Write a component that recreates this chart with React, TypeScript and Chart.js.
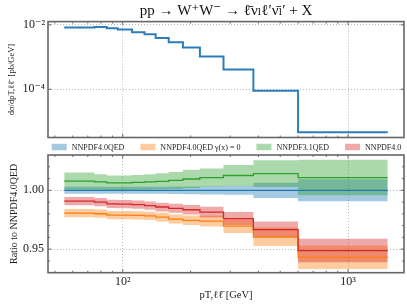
import React, { useEffect, useRef } from 'react';
import { Chart, registerables } from 'chart.js';

Chart.register(...registerables);

// ---------- data ----------
const binEdges = [55, 75, 85, 95, 110, 125, 140, 160, 185, 220, 280, 380, 600, 1500];
const xsec = [8.24e-3, 8.67e-3, 7.89e-3, 7.14e-3, 5.93e-3, 5.14e-3, 3.94e-3, 2.9e-3, 1.97e-3, 1.04e-3, 4.08e-4, 9.04e-5, 4.62e-6];

const ratioQED = [1, 1, 1, 1, 1, 1, 1, 1, 1, 1, 1, 1, 1];
const errQED = [0.003, 0.003, 0.003, 0.003, 0.003, 0.003, 0.003, 0.0032, 0.0033, 0.0035, 0.0038, 0.0065, 0.0094];

const ratioNoPhoton = [0.9806, 0.9801, 0.9789, 0.979, 0.9787, 0.9782, 0.9772, 0.9756, 0.9745, 0.9738, 0.9695, 0.9605, 0.9432];
const errNoPhoton = [0.0035, 0.0035, 0.0035, 0.0035, 0.0035, 0.0035, 0.0037, 0.0038, 0.004, 0.0045, 0.0058, 0.0078, 0.01];

const ratio31 = [1.0078, 1.0071, 1.0064, 1.0064, 1.0068, 1.0072, 1.0076, 1.0084, 1.0096, 1.0108, 1.0126, 1.0142, 1.0108];
const err31 = [0.0074, 0.0066, 0.0062, 0.0062, 0.0063, 0.0065, 0.0068, 0.0072, 0.0078, 0.0078, 0.009, 0.0114, 0.0151];

const ratio40 = [0.9908, 0.99, 0.9885, 0.9883, 0.9878, 0.987, 0.9858, 0.9847, 0.9835, 0.9815, 0.976, 0.9666, 0.9488];
const err40 = [0.0035, 0.0035, 0.0035, 0.0035, 0.0035, 0.0035, 0.0037, 0.0038, 0.004, 0.0045, 0.0055, 0.0068, 0.01];

const seriesLabels = ['NNPDF4.0QED', 'NNPDF4.0QED γ(x) = 0', 'NNPDF3.1QED', 'NNPDF4.0'];

const xTicks = [100, 1000];
const xTickLabels = ['10²', '10³'];
const xMinorTicks = [50, 60, 70, 80, 90, 200, 300, 400, 500, 600, 700, 800, 900];
const yTopTicks = [1e-4, 1e-2];
const yTopTickLabels = ['10⁻⁴', '10⁻²'];
const yRatioTicks = [0.95, 1.0];
const yRatioTickLabels = ['0.95', '1.00'];
const yRatioMinor = [0.93, 0.94, 0.96, 0.97, 0.98, 0.99, 1.01, 1.02, 1.03];

// ---------- styling ----------
const FONT = "'Liberation Serif', 'DejaVu Serif', serif";
const colors = ['31,119,180', '255,127,14', '44,160,44', '214,39,40'];
const X_MIN = 46.6;
const X_MAX = 1771;

const steps = (vals: number[]) =>
  binEdges.map((x, i) => ({ x, y: vals[Math.min(i, vals.length - 1)] }));

const framePlugin = {
  id: 'frame',
  afterDraw(chart: any, _args: any, opts: any) {
    const { ctx, chartArea: a, scales } = chart;
    ctx.save();
    ctx.beginPath();
    const xs = scales.x;
    const ys = scales.y;
    const tickX = (vals: number[], len: number) =>
      vals.forEach((v) => {
        const p = xs.getPixelForValue(v);
        if (p <= a.left + 1 || p >= a.right - 1) return;
        ctx.moveTo(p, a.bottom);
        ctx.lineTo(p, a.bottom - len);
        ctx.moveTo(p, a.top);
        ctx.lineTo(p, a.top + len);
      });
    const tickY = (vals: number[], len: number) =>
      vals.forEach((v) => {
        const p = ys.getPixelForValue(v);
        if (p <= a.top + 1 || p >= a.bottom - 1) return;
        ctx.moveTo(a.left, p);
        ctx.lineTo(a.left + len, p);
        ctx.moveTo(a.right, p);
        ctx.lineTo(a.right - len, p);
      });
    tickX(opts.xMajor || [], 3.5);
    tickX(opts.xMinor || [], 2);
    tickY(opts.yMajor || [], 3.5);
    tickY(opts.yMinor || [], 2);
    ctx.strokeStyle = '#444';
    ctx.lineWidth = 0.8;
    ctx.stroke();
    ctx.strokeStyle = '#666';
    ctx.lineWidth = 1.6;
    ctx.strokeRect(a.left, a.top, a.right - a.left, a.bottom - a.top);
    ctx.restore();
  },
};

const bandLegendPlugin = {
  id: 'bandLegend',
  afterDraw(chart: any, _args: any, opts: any) {
    if (!opts || !opts.items) return;
    const { ctx, chartArea: a } = chart;
    const boxW = 15;
    const boxH = 6.5;
    const gap = 5;
    const spacing = 16;
    ctx.save();
    ctx.font = `8px ${FONT}`;
    ctx.textBaseline = 'middle';
    const widths = opts.items.map((it: any) => boxW + gap + ctx.measureText(it.text).width);
    const total = widths.reduce((s: number, w: number) => s + w, 0) + spacing * (widths.length - 1);
    let x = (a.left + a.right) / 2 - total / 2 + 0.5;
    const y = opts.y;
    opts.items.forEach((it: any, i: number) => {
      ctx.fillStyle = it.color;
      ctx.fillRect(x, y - boxH / 2, boxW, boxH);
      ctx.fillStyle = '#222';
      ctx.fillText(it.text, x + boxW + gap, y + 0.5);
      x += widths[i] + spacing;
    });
    ctx.restore();
  },
};

export default function App() {
  const topRef = useRef<HTMLCanvasElement>(null);
  const botRef = useRef<HTMLCanvasElement>(null);

  useEffect(() => {
    Chart.defaults.font.family = FONT;
    Chart.defaults.color = '#222';

    const gridStyle = { color: 'rgba(0,0,0,0.35)', lineWidth: 0.8, drawTicks: false };
    const borderStyle = { display: false, dash: [1, 2] };

    const top = new Chart(topRef.current as HTMLCanvasElement, {
      type: 'line',
      data: {
        datasets: [
          {
            data: steps(xsec),
            borderColor: 'rgb(44,125,186)',
            borderWidth: 2,
            pointRadius: 0,
            stepped: true,
            fill: false,
          },
        ],
      },
      plugins: [framePlugin],
      options: {
        responsive: false,
        animation: false,
        layout: { padding: { top: 0, left: 0, right: 3, bottom: 2.5 } },
        plugins: {
          legend: { display: false },
          tooltip: { enabled: false },
          title: {
            display: true,
            text: 'pp → W⁺W⁻ → ℓ̄νₗℓ′ν̄ₗ′ + X',
            font: { size: 15, weight: 'normal' },
            color: '#111',
            padding: { top: 2.5, bottom: 1.1 },
            fullSize: false,
          },
          frame: { xMajor: xTicks, xMinor: xMinorTicks, yMajor: yTopTicks, yMinor: [] },
        } as any,
        scales: {
          x: {
            type: 'logarithmic',
            min: X_MIN,
            max: X_MAX,
            grid: gridStyle,
            border: borderStyle,
            ticks: { display: false },
            afterBuildTicks: (s: any) => {
              s.ticks = xTicks.map((value) => ({ value }));
            },
            afterFit: (s: any) => {
              s.height = 0;
              s.paddingLeft = 0;
              s.paddingRight = 0;
            },
          },
          y: {
            type: 'logarithmic',
            min: 3.17e-6,
            max: 1.265e-2,
            grid: gridStyle,
            border: borderStyle,
            ticks: {
              font: { size: 12 },
              padding: 3,
              callback: (v: any) => {
                const i = yTopTicks.findIndex((t) => Math.abs(Math.log10(t) - Math.log10(Number(v))) < 1e-6);
                return i >= 0 ? yTopTickLabels[i] : '';
              },
            },
            afterBuildTicks: (s: any) => {
              s.ticks = yTopTicks.map((value) => ({ value }));
            },
            title: {
              display: true,
              text: 'dσ/dpT,ℓℓ̄  [pb/GeV]',
              font: { size: 8.5 },
              padding: { top: 7, bottom: 0 },
            },
            afterFit: (s: any) => {
              s.width = 48;
              s.paddingTop = 0;
              s.paddingBottom = 0;
            },
          },
        },
      } as any,
    });

    const ratioSets = [
      [ratioQED, errQED],
      [ratioNoPhoton, errNoPhoton],
      [ratio31, err31],
      [ratio40, err40],
    ];
    const datasets: any[] = [];
    ratioSets.forEach(([r, e], k) => {
      const lo = r.map((v, i) => v - e[i]);
      const hi = r.map((v, i) => v + e[i]);
      datasets.push({
        data: steps(lo),
        borderWidth: 0,
        pointRadius: 0,
        stepped: true,
        fill: false,
        order: 20 - k,
      });
      datasets.push({
        data: steps(hi),
        borderWidth: 0,
        pointRadius: 0,
        stepped: true,
        fill: '-1',
        backgroundColor: `rgba(${colors[k]},0.4)`,
        order: 20 - k,
      });
    });
    ratioSets.forEach(([r], k) => {
      datasets.push({
        data: steps(r),
        borderColor: `rgb(${colors[k]})`,
        borderWidth: 1.3,
        pointRadius: 0,
        stepped: true,
        fill: false,
        order: 10 - k,
      });
    });

    const bot = new Chart(botRef.current as HTMLCanvasElement, {
      type: 'line',
      data: { datasets },
      plugins: [framePlugin, bandLegendPlugin],
      options: {
        responsive: false,
        animation: false,
        layout: { padding: { top: 15, left: 0, right: 3, bottom: 0 } },
        plugins: {
          legend: { display: false },
          tooltip: { enabled: false },
          frame: { xMajor: xTicks, xMinor: xMinorTicks, yMajor: yRatioTicks, yMinor: yRatioMinor },
          bandLegend: {
            y: 7,
            items: seriesLabels.map((text, k) => ({ text, color: `rgba(${colors[k]},0.4)` })),
          },
        } as any,
        scales: {
          x: {
            type: 'logarithmic',
            min: X_MIN,
            max: X_MAX,
            grid: gridStyle,
            border: borderStyle,
            ticks: {
              font: { size: 12 },
              padding: 2,
              maxRotation: 0,
              autoSkip: false,
              callback: (v: any) => {
                const i = xTicks.findIndex((t) => Math.abs(t - Number(v)) < 1e-6);
                return i >= 0 ? xTickLabels[i] : '';
              },
            },
            afterBuildTicks: (s: any) => {
              s.ticks = xTicks.map((value) => ({ value }));
            },
            title: {
              display: true,
              text: 'pT,ℓℓ̄ [GeV]',
              font: { size: 10.5 },
              padding: { top: 0, bottom: 3.7 },
            },
            afterFit: (s: any) => {
              s.height = 32.3;
              s.paddingLeft = 0;
              s.paddingRight = 0;
            },
          },
          y: {
            type: 'linear',
            min: 0.93,
            max: 1.03,
            grid: gridStyle,
            border: borderStyle,
            ticks: {
              font: { size: 12 },
              padding: 4,
              callback: (v: any) => {
                const i = yRatioTicks.findIndex((t) => Math.abs(t - Number(v)) < 1e-6);
                return i >= 0 ? yRatioTickLabels[i] : '';
              },
            },
            afterBuildTicks: (s: any) => {
              s.ticks = yRatioTicks.map((value) => ({ value }));
            },
            title: {
              display: true,
              text: 'Ratio to NNPDF4.0QED',
              font: { size: 10 },
              padding: { top: 8, bottom: 0 },
            },
            afterFit: (s: any) => {
              s.width = 48;
              s.paddingTop = 0;
              s.paddingBottom = 0;
            },
          },
        },
      } as any,
    });

    return () => {
      top.destroy();
      bot.destroy();
    };
  }, []);

  return (
    <div style={{ position: 'absolute', left: 0, top: 0, width: 407, height: 305, background: '#fff' }}>
      <canvas ref={topRef} width={407} height={140} style={{ position: 'absolute', left: 0, top: 0 }} />
      <canvas ref={botRef} width={407} height={165} style={{ position: 'absolute', left: 0, top: 140 }} />
    </div>
  );
}
